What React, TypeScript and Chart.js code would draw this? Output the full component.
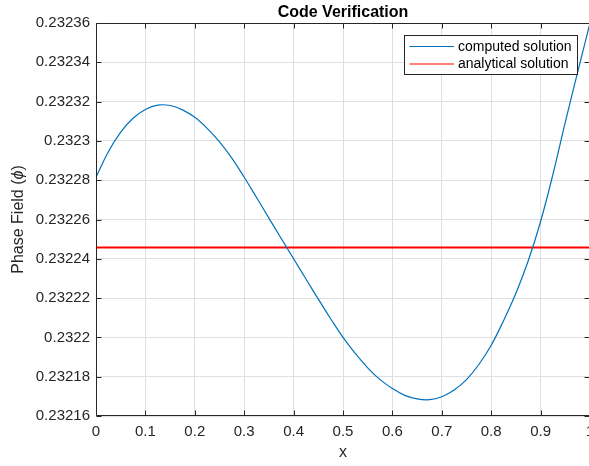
import React, { useEffect, useRef } from "react";
import { Chart, registerables } from "chart.js";

Chart.register(...registerables);

// ---- data ----
const xValues = [
  0, 0.025, 0.05, 0.075, 0.1, 0.125, 0.15, 0.175, 0.2, 0.225, 0.25, 0.275, 0.3,
  0.325, 0.35, 0.375, 0.4, 0.425, 0.45, 0.475, 0.5, 0.525, 0.55, 0.575, 0.6,
  0.625, 0.65, 0.675, 0.7, 0.725, 0.75, 0.775, 0.8, 0.825, 0.85, 0.875, 0.9,
  0.925, 0.95, 0.975, 1.0,
];
const phiComputed = [
  0.2322815, 0.2322945, 0.2323045, 0.2323115, 0.232316, 0.2323182, 0.232318,
  0.2323158, 0.232312, 0.2323064, 0.2322995, 0.2322912, 0.2322815, 0.2322712,
  0.2322607, 0.2322503, 0.23224, 0.2322297, 0.2322195, 0.2322095, 0.2322,
  0.2321918, 0.2321845, 0.2321785, 0.232174, 0.2321705, 0.2321687, 0.2321683,
  0.2321698, 0.2321732, 0.2321785, 0.2321862, 0.232196, 0.2322085, 0.2322225,
  0.232239, 0.232259, 0.232283, 0.2323095, 0.232335, 0.23236,
];
const phiAnalytical = 0.2322457;
const analyticalX = [0, 1];

const xTickValues = [0, 0.1, 0.2, 0.3, 0.4, 0.5, 0.6, 0.7, 0.8, 0.9, 1];
const yTickValues = [
  0.23216, 0.23218, 0.2322, 0.23222, 0.23224, 0.23226, 0.23228, 0.2323,
  0.23232, 0.23234, 0.23236,
];

const chartTitle = "Code Verification";
const xAxisLabel = "x";
const yAxisLabelParts = ["Phase Field (", "ϕ", ")"];
const legendLabels = ["computed solution", "analytical solution"];
const seriesColors = ["#0072BD", "#FF0000"];

const FONT = "'Liberation Sans', Arial, Helvetica, sans-serif";
const AXIS_COLOR = "#262626";

const fmt = (v: number) => String(parseFloat(Number(v).toFixed(5)));

const decorPlugin = {
  id: "decor",
  afterDraw(chart: any) {
    const { ctx } = chart;
    const { left, right, top, bottom } = chart.chartArea;
    const xs = chart.scales.x;
    const ys = chart.scales.y;
    ctx.save();

    // box
    ctx.strokeStyle = AXIS_COLOR;
    ctx.lineWidth = 1;
    const L = Math.round(left) + 0.5;
    const R = Math.round(right) - 0.5;
    const T = Math.round(top) + 0.5;
    const B = Math.round(bottom) - 0.5;
    ctx.beginPath();
    ctx.rect(L, T, R - L, B - T);
    ctx.stroke();

    // inward ticks
    const tl = 5;
    ctx.beginPath();
    for (const v of xTickValues) {
      const p = Math.round(xs.getPixelForValue(v)) + 0.5;
      ctx.moveTo(p, B);
      ctx.lineTo(p, B - tl);
      ctx.moveTo(p, T);
      ctx.lineTo(p, T + tl);
    }
    for (const v of yTickValues) {
      const p = Math.round(ys.getPixelForValue(v)) + 0.5;
      ctx.moveTo(L, p);
      ctx.lineTo(L + tl, p);
      ctx.moveTo(R, p);
      ctx.lineTo(R - tl, p);
    }
    ctx.stroke();

    // title
    ctx.fillStyle = "#000";
    ctx.font = `bold 16px ${FONT}`;
    ctx.textAlign = "center";
    ctx.textBaseline = "alphabetic";
    ctx.fillText(chartTitle, (left + right) / 2, 16.5);

    // x label
    ctx.fillStyle = AXIS_COLOR;
    ctx.font = `16px ${FONT}`;
    ctx.textBaseline = "middle";
    ctx.fillText(xAxisLabel, (left + right) / 2, 453);

    // y label (rotated, italic symbol)
    ctx.save();
    ctx.translate(18.5, (top + bottom) / 2);
    ctx.rotate(-Math.PI / 2);
    const fonts = [`16px ${FONT}`, `italic 16px ${FONT}`, `16px ${FONT}`];
    let total = 0;
    const widths: number[] = [];
    yAxisLabelParts.forEach((t, i) => {
      ctx.font = fonts[i];
      const w = ctx.measureText(t).width;
      widths.push(w);
      total += w;
    });
    let cx = -total / 2;
    ctx.textAlign = "left";
    ctx.textBaseline = "middle";
    yAxisLabelParts.forEach((t, i) => {
      ctx.font = fonts[i];
      ctx.fillText(t, cx, 0);
      cx += widths[i];
    });
    ctx.restore();

    // legend
    const lx = 404.5, ly = 35.5, lw = 173, lh = 39;
    ctx.fillStyle = "#fff";
    ctx.fillRect(lx, ly, lw, lh);
    ctx.strokeStyle = AXIS_COLOR;
    ctx.lineWidth = 1;
    ctx.strokeRect(lx, ly, lw, lh);
    const rows = [46.5, 64];
    legendLabels.forEach((lab, i) => {
      ctx.strokeStyle = seriesColors[i];
      ctx.lineWidth = 1;
      ctx.beginPath();
      ctx.moveTo(409.5, rows[i]);
      ctx.lineTo(454, rows[i]);
      ctx.stroke();
      ctx.fillStyle = "#000";
      ctx.font = `14px ${FONT}`;
      ctx.textAlign = "left";
      ctx.textBaseline = "middle";
      ctx.fillText(lab, 458, rows[i] + 0.5);
    });

    ctx.restore();
  },
};

export default function App() {
  const canvasRef = useRef<HTMLCanvasElement | null>(null);

  useEffect(() => {
    if (!canvasRef.current) return;
    const chart = new Chart(canvasRef.current, {
      type: "line",
      data: {
        datasets: [
          {
            label: legendLabels[0],
            data: xValues.map((x, i) => ({ x, y: phiComputed[i] })),
            borderColor: seriesColors[0],
            borderWidth: 1.2,
            pointRadius: 0,
            fill: false,
            tension: 0.4,
          },
          {
            label: legendLabels[1],
            data: analyticalX.map((x) => ({ x, y: phiAnalytical })),
            borderColor: seriesColors[1],
            borderWidth: 2,
            pointRadius: 0,
            fill: false,
          },
        ],
      },
      options: {
        responsive: false,
        animation: false,
        events: [],
        layout: { padding: { top: 23, right: 2, left: 0, bottom: 0 } },
        plugins: {
          legend: { display: false },
          title: { display: false },
          tooltip: { enabled: false },
        },
        scales: {
          x: {
            type: "linear",
            min: 0,
            max: 1,
            afterBuildTicks: (s: any) => {
              s.ticks = xTickValues.map((v) => ({ value: v }));
            },
            afterFit: (s: any) => {
              s.height = 50;
              s.paddingLeft = 0;
              s.paddingRight = 0;
            },
            grid: { color: "#dfdfdf", drawTicks: false },
            border: { display: false },
            ticks: {
              padding: 7,
              color: AXIS_COLOR,
              font: { family: FONT, size: 15 },
              maxRotation: 0,
              autoSkip: false,
              callback: (v: any) => fmt(v),
            },
          },
          y: {
            type: "linear",
            min: 0.23216,
            max: 0.23236,
            afterBuildTicks: (s: any) => {
              s.ticks = yTickValues.map((v) => ({ value: v }));
            },
            afterFit: (s: any) => {
              s.width = 96;
              s.paddingTop = 0;
              s.paddingBottom = 0;
            },
            grid: { color: "#dfdfdf", drawTicks: false },
            border: { display: false },
            ticks: {
              padding: 6,
              color: AXIS_COLOR,
              font: { family: FONT, size: 15 },
              autoSkip: false,
              callback: (v: any) => fmt(v),
            },
          },
        },
      },
      plugins: [decorPlugin],
    } as any);
    return () => chart.destroy();
  }, []);

  return (
    <div
      style={{
        position: "fixed",
        left: 0,
        top: 0,
        width: 589,
        height: 466,
        overflow: "hidden",
        background: "#fff",
      }}
    >
      <canvas ref={canvasRef} width={592} height={466} style={{ display: "block" }} />
    </div>
  );
}
